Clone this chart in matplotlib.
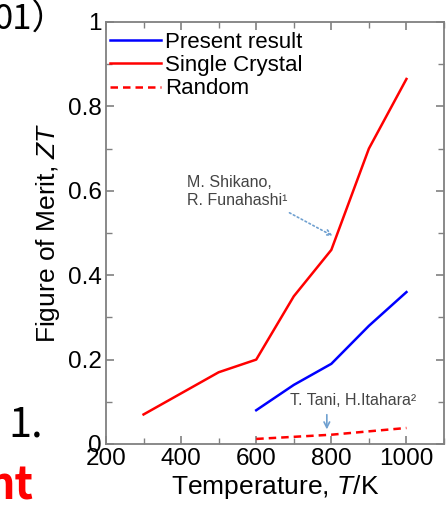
import matplotlib
matplotlib.use('Agg')
import matplotlib.pyplot as plt
from matplotlib.ticker import MultipleLocator, FuncFormatter

plt.rcParams['font.family'] = ['Liberation Sans', 'DejaVu Sans']
plt.rcParams['mathtext.fontset'] = 'custom'
plt.rcParams['mathtext.rm'] = 'Liberation Sans'
plt.rcParams['mathtext.it'] = 'Liberation Sans:italic'

# data
tempPresent = [600, 700, 800, 900, 1000]
ztPresent = [0.08, 0.14, 0.19, 0.28, 0.36]
tempCrystal = [300, 400, 500, 600, 700, 800, 900, 1000]
ztCrystal = [0.07, 0.12, 0.17, 0.20, 0.35, 0.46, 0.70, 0.865]
tempRandom = [600, 700, 800, 900, 1000]
ztRandom = [0.012, 0.017, 0.022, 0.030, 0.038]

fig = plt.figure(figsize=(4.47, 5.09), dpi=100)
ax = fig.add_axes([106/447, 1-444/509, 338/447, 422/509])

ax.plot(tempPresent, ztPresent, color='#0000ff', lw=1.8, label='Present result')
ax.plot(tempCrystal, ztCrystal, color='#ff0000', lw=1.8, label='Single Crystal')
ax.plot(tempRandom, ztRandom, color='#ff0000', lw=1.8, ls=(0, (3, 2)), label='Random')

ax.set_xlim(200, 1100)
ax.set_ylim(0, 1)
ax.xaxis.set_major_locator(MultipleLocator(200))
ax.xaxis.set_minor_locator(MultipleLocator(100))
ax.yaxis.set_major_locator(MultipleLocator(0.2))
ax.yaxis.set_minor_locator(MultipleLocator(0.1))
ax.yaxis.set_major_formatter(FuncFormatter(lambda v, p: '%g' % round(v, 2)))
ax.set_xticks([200, 400, 600, 800, 1000])

gray = '#808080'
for s in ax.spines.values():
    s.set_color(gray)
    s.set_linewidth(1.3)
ax.tick_params(which='both', direction='in', top=True, right=True, color=gray, labelsize=17.5, pad=3)
ax.tick_params(which='major', length=6, width=1.2)
ax.tick_params(which='minor', length=4, width=1.0)

ax.set_xlabel('Temperature, $\\it{T}$/K', fontsize=19, labelpad=2)
ax.set_ylabel('Figure of Merit, $\\it{ZT}$', fontsize=19, labelpad=4)

ax.legend(loc='upper left', bbox_to_anchor=(-0.02, 1.003), frameon=False, fontsize=16,
          handlelength=2.3, handletextpad=0.15, labelspacing=0.1,
          borderpad=0.5, borderaxespad=0.0)

ax.text(416, 0.638, 'M. Shikano,\nR. Funahashi\u00b9', fontsize=11.5, color='#444444',
        ha='left', va='top', linespacing=1.3)
ax.annotate('', xy=(810, 0.49), xytext=(682, 0.551),
            arrowprops=dict(arrowstyle='->', color='#6fa0d0', lw=1.2, ls=':'))
ax.text(690, 0.104, 'T. Tani, H.Itahara\u00b2', fontsize=11.5, color='#444444',
        ha='left', va='center')
ax.annotate('', xy=(788, 0.028), xytext=(788, 0.076),
            arrowprops=dict(arrowstyle='->', color='#6fa0d0', lw=1.2))

# slide text cut off at the left edge
cjk = ['Noto Sans CJK JP', 'DejaVu Sans']
fig.text(-0.015, 1-20/509, '01\uff09', fontsize=25, family=cjk, ha='left', va='center')
fig.text(8/447, 1-425/509, '1.', fontsize=30, family=cjk, ha='left', va='center')
fig.text(-0.03, 1-486/509, 'nt', fontsize=32, family=cjk, weight='bold', color='#ff0000',
         ha='left', va='center')

fig.savefig('out.png', dpi=100)
